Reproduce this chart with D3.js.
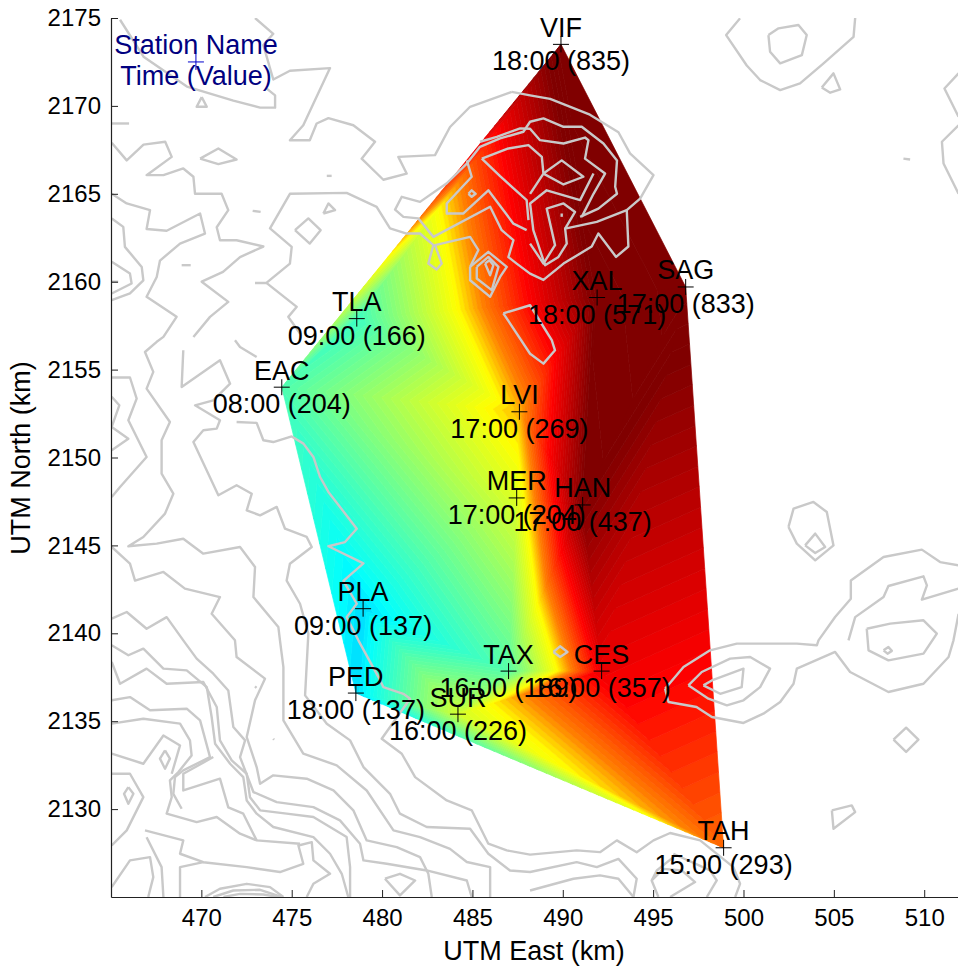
<!DOCTYPE html>
<html>
<head>
<meta charset="utf-8">
<title>Station map</title>
<script src="https://d3js.org/d3.v7.min.js"></script>
<style>
  body { margin: 0; background: #fff; }
  text { font-family: "Liberation Sans", Arial, sans-serif; fill: #000; }
</style>
</head>
<body>
<div id="chart"></div>
<script>
// Stations
var stationNames  = ["VIF", "SAG", "XAL", "TLA", "EAC", "LVI", "MER", "HAN", "PLA", "TAX", "CES", "PED", "SUR", "TAH"];
var stationEast   = [489.9, 496.8, 491.9, 478.6, 474.45, 487.6, 487.45, 491.1, 478.95, 487.0, 492.15, 478.55, 484.2, 498.9];
var stationNorth  = [2173.5, 2159.7, 2159.1, 2157.9, 2154.0, 2152.6, 2147.7, 2147.3, 2141.4, 2137.85, 2137.85, 2136.6, 2135.4, 2127.8];
var stationTimes  = ["18:00", "17:00", "18:00", "09:00", "08:00", "17:00", "17:00", "17:00", "09:00", "16:00", "16:00", "18:00", "16:00", "15:00"];
var stationValues = [835, 833, 571, 166, 204, 269, 204, 437, 137, 189, 357, 137, 226, 293];
// level the shaded surface reaches at each station, judged from its colour
var stationShades = [835, 835, 810, 240, 260, 515, 440, 800, 137, 270, 670, 137, 425, 560];

var shadeStops  = [137, 165, 480, 540, 650, 800];
var shadeColors = ["#00dcff", "#00ffff", "#ffff00", "#ff8000", "#ff0000", "#800000"];

var xTicks = [470, 475, 480, 485, 490, 495, 500, 505, 510];
var yTicks = [2130, 2135, 2140, 2145, 2150, 2155, 2160, 2165, 2170, 2175];

// Terrain contours, [km east, km north]
var terrainLines = [
  [[487.18,2170.8],[484.87,2169.95],[483.76,2168.8],[482.93,2167.2],[480.9,2167.1],[481.36,2166.15],[480.07,2165.8],[478.87,2167.0],[479.61,2167.96],[478.41,2168.9],[477.03,2169.3],[476.38,2169.0],[476.0,2168.05],[474.9,2168.05],[475.64,2168.9],[477.12,2172.15],[474.9,2172.0],[473.98,2171.5],[473.43,2173.46],[473.98,2174.1],[472.97,2175]],
  [[465.5,2174.9],[466.8,2172.8],[469.2,2171.1],[471.77,2170.3],[473.25,2169.9],[474.08,2169.9],[474.08,2170.6],[473.6,2171]],
  [[470.02,2170.5],[470.3,2169.95],[469.74,2169.95],[470.02,2170.5]],
  [[465.04,2169],[466,2169]],
  [[465.04,2167.9],[465.87,2166.9],[466.8,2167.8],[468,2167.96],[468.36,2167.1],[466.97,2166.06],[467.9,2166.06],[469,2166.44],[469.56,2165.97],[469.65,2165],[471.12,2165],[471.49,2164.07],[470.85,2163.1],[471.03,2162.36],[471.95,2162.36],[473.43,2162],[472.14,2161.4],[471.2,2160.56],[470.02,2160],[471.49,2158.85],[470.48,2158],[469.56,2156.86]],
  [[465.04,2165],[465.87,2164.45],[467.16,2164.07],[466.97,2163],[468.08,2162.9],[469.93,2163.88],[470.2,2162.74],[468.82,2162.17],[467.71,2161.2],[467.53,2160.27],[466.97,2159.14],[468.63,2158],[467.9,2156.86],[467.53,2156.58],[466.88,2156],[467.34,2154.87],[466.97,2153.92],[468.26,2152.02],[467.8,2150.98],[467.8,2149.08],[468.45,2147.94],[467.99,2146.81],[466.79,2145.48],[465.96,2144.95],[467.53,2145.1],[469,2145.38],[470.11,2144.53],[472.14,2144.91],[472.97,2143.77],[472.88,2142.06],[474.26,2140.36],[474.35,2139.6],[474.54,2138.08],[474.54,2135.05],[475.64,2133.15],[477.49,2132.49],[479.15,2131.06],[480.63,2128.79],[482.1,2128.41],[483.76,2127.74],[484.69,2126.99],[485.98,2126.7],[485.98,2125]],
  [[465.04,2163.6],[465.68,2163.12],[465.77,2161.98],[466.7,2160.84],[466.79,2160.08],[466.05,2159.33],[465.04,2158.95]],
  [[465.04,2161.13],[466.05,2160.46],[466.14,2159.9],[465.04,2159.33]],
  [[465.04,2160],[465.4,2160]],
  [[468.91,2160.94],[469.41,2160.94]],
  [[472.84,2164.03],[473.28,2163.97]],
  [[476.94,2166.02],[477.21,2166.02]],
  [[469.93,2167],[470.94,2167.58],[471.95,2166.95],[470.94,2166.69],[469.93,2167]],
  [[475.18,2162.93],[475.92,2163.6],[476.6,2162.93],[476,2162.17],[475.18,2162.93]],
  [[476.75,2163.88],[477.03,2164.45],[477.4,2164.07],[476.75,2163.88]],
  [[472.97,2159.93],[473.6,2159.93],[474.9,2161.03],[475,2161.98],[473.8,2163.03],[474.9,2165],[478.04,2165.05],[479.7,2164.26],[480.44,2163.03],[481.36,2162.74],[482.1,2162.74],[482.84,2162.08],[482.56,2161.03],[483.02,2160.69],[483.3,2161.03],[482.93,2162.08],[484.87,2162.55],[485.33,2161.8],[484.87,2160.84]],
  [[473.6,2159.93],[475.28,2158.57],[474.81,2158],[475.46,2157.05]],
  [[471.86,2156.67],[472.14,2156.29],[473.06,2155.72]],
  // mountain north of XAL
  [[487.18,2170.8],[488.19,2170.6],[489.3,2170.4],[491.5,2169.5],[493.08,2168.5],[493.72,2167.3],[495.02,2166.06],[494.28,2164.73],[493.54,2164.07],[493.63,2162],[492.95,2161.41],[491.97,2162.74],[491.6,2162],[490.04,2161.03],[488.93,2160.1],[488.19,2160.46],[487.45,2161.03],[486.99,2161.4],[487.27,2162.36],[486.62,2162.93],[485.98,2164.26],[482.84,2162.55],[482.01,2163.6],[481.18,2163.69],[480.72,2164.1],[481.09,2164.83],[482.1,2164.54],[483.58,2165.6],[484.69,2166.72],[485.42,2167.67],[486.53,2168.15],[487.82,2168.53],[488.19,2169.1],[488.93,2169.29],[490.04,2168.81],[491.05,2168.81],[492.25,2167.86],[493,2166.9],[492.9,2165.4],[493,2165],[491.97,2164.16],[490.96,2163.69]],
  [[493.54,2164.07],[491.88,2163.4],[490.13,2163.02],[490.22,2162.17],[489.76,2161.41],[489.02,2160.94],[488.37,2162.93],[488.19,2164.45],[489.11,2165.2],[490.96,2164.64],[491.7,2166.15]],
  [[484.69,2166.9],[484.96,2165.97],[483.58,2164.45],[483.58,2163.88],[484.5,2163.88],[485.88,2165.2],[487.27,2163.3],[488,2162.93]],
  [[485.42,2167.96],[486.35,2168.24],[487.64,2168.72],[488.19,2168.7],[488.74,2168.05],[490.04,2167.86],[491.23,2168.2],[491.42,2168.05],[491.23,2167],[492.34,2166.15],[491.7,2165],[491.05,2163.69]],
  [[485.52,2167],[486.99,2167.58],[488.1,2167.77],[488.84,2167.1],[488.93,2166.15],[488.19,2165]],
  [[485.52,2167],[486.53,2166],[488,2164.64],[488.1,2163.5]],
  [[488.93,2166.15],[489.94,2166.9],[491.14,2165.97],[490.04,2165.53],[488.93,2166.15]],
  [[490.13,2163.02],[490.68,2163.97],[490.04,2164.45],[489.11,2164.16],[489.57,2162.08],[488.93,2161.03],[488.19,2162.17]],
  [[489.94,2163.88],[489.94,2163.69]],
  [[484.87,2160.84],[485.88,2161.7],[486.9,2160.84],[486.53,2160.27],[485.98,2159.14],[484.87,2160.08],[484.87,2160.84]],
  [[485.24,2160.84],[485.88,2161.41],[486.44,2160.84],[486.07,2159.52],[485.24,2160.18],[485.24,2160.84]],
  [[485.7,2161.03],[485.94,2161.22],[486.16,2160.94],[485.98,2160.37],[485.7,2161.03]],
  [[484.78,2165],[484.96,2165.2],[485.18,2165],[484.96,2164.83],[484.78,2165]],
  [[486.71,2158.2],[488.19,2158.66],[489.39,2156.67],[489.57,2156.1],[488.93,2155.34],[488.19,2155.9],[486.71,2158.2]],
  // north east
  [[499.81,2174.98],[499.04,2174.03],[500.18,2172.3],[500.92,2171.47],[502.03,2170.9],[503.13,2171.28],[504.43,2172.42],[506.09,2173.93],[506.18,2175]],
  [[501.38,2174.03],[501.94,2174.41],[503.04,2174.6],[503.5,2174.03],[503.23,2172.89],[502.03,2172.42],[501.47,2173.08],[501.38,2174.03]],
  [[504.33,2171.05],[504.98,2171.85],[505.35,2170.94],[504.8,2170.75],[504.33,2171.05]],
  [[508.85,2167],[509.22,2166.95]],
  [[511.9,2171.85],[511.12,2170.99],[511.9,2169.38]],
  [[511.9,2168.9],[510.98,2167.96],[511.07,2166.72],[511.9,2165]],
  // west
  [[465.04,2154.55],[466.05,2154.55],[466.42,2153.35],[465.96,2152.12],[466.97,2150.03],[465.5,2148.32],[465.04,2147.75]],
  [[465.04,2153.45],[465.46,2152.97],[465.04,2151.74],[465.96,2151.07],[465.04,2150.41]],
  [[469,2156.1],[468.91,2154.01],[471.03,2155.53],[471.59,2154.2],[470.66,2153.25],[469.65,2152.97],[471.03,2152.12],[470.85,2151.64],[470.11,2151.55],[469.56,2150.88],[470.94,2147.85],[471.95,2148.42],[472.79,2147.94],[472.51,2146.99],[473.25,2146.71],[474.17,2147.19],[474.63,2145.95],[475.83,2145.48],[476.11,2144.91],[474.9,2143.96],[474.72,2143],[475.46,2141.68],[475.92,2139.98],[475.74,2136.47],[476.94,2134.86],[478.23,2133.91],[478.97,2132.39],[480.44,2130.87],[480.99,2129.74],[482.47,2128.98],[484.87,2128.88],[485.88,2127.46],[487.08,2126.51],[488.19,2126.42],[490.77,2126.98],[491.88,2126.7],[493.08,2127.17],[494.09,2126.04],[493.91,2125]],
  [[471.95,2152.02],[473.06,2151.97],[473.43,2150.98],[473.98,2150.88],[475,2151.2],[475.65,2150.79],[476.2,2150.03],[476.57,2148.89],[477.03,2148.04],[478.6,2145.95],[477.95,2145.19],[477.03,2144.95],[478.97,2143.98],[477.86,2142.98],[478.6,2141.68],[478.04,2140.92],[478.69,2139.6],[479.8,2137.51],[480.07,2136.94],[481.18,2136.56],[481.55,2136.28],[479.98,2134],[481.09,2133.15],[481.83,2131.82],[483.58,2130.49],[484.96,2129.93],[485.88,2128.03],[486.9,2127.65],[488.19,2127.41],[490.77,2127.65],[492.06,2127.55],[492.99,2128.22],[494.09,2127.55],[495.02,2128.22],[495.94,2128.64],[497.6,2128.22],[499.44,2126.7],[499.81,2125.75],[499.54,2125]],
  [[465.04,2144.91],[466.05,2143.96],[466.33,2143],[467.9,2143.49],[469.09,2142.54],[471.03,2142.06],[470.57,2141.11],[471.86,2139.6],[471.95,2138.65],[473.52,2137.42],[472.97,2136.19],[472.51,2134.1],[473.06,2132.39],[473.25,2131.44],[473.98,2131.92],[475.83,2131.73],[477.31,2131.06],[478.41,2129.93],[479.15,2128.22],[480.81,2127.84],[482.1,2127.27],[482.56,2126.32],[482.75,2125]],
  [[465.04,2140.83],[465.87,2141.21],[466.97,2140.26],[468.08,2140.92],[469,2139.6],[469.74,2138.56],[470.66,2137.7],[471.49,2136.75],[471.77,2134.67],[472.42,2133.91],[472.14,2132.96],[472.88,2130.97],[474.17,2130.4],[476.2,2130.11],[477.67,2129.36],[478.78,2128.03],[478.97,2127.08],[480.26,2126.89],[482.47,2126.51],[484.69,2125.94],[484.96,2125]],
  [[465.04,2138.37],[465.5,2137.13],[466.97,2137.99],[468.08,2137.13],[470.11,2137.23],[470.85,2135.81],[471.03,2133.91],[471.68,2132.77],[472.51,2132.01],[472.69,2130.68],[473.25,2129.93],[474.72,2129.74],[476.2,2129.55],[478.04,2128.41],[478.23,2126.7],[478.23,2125]],
  [[465.04,2139.32],[465.96,2138.75],[466.79,2139.13],[467.9,2137.99],[469.19,2137.89],[470.3,2136.94],[470.57,2135.24],[470.76,2133.72],[471.59,2132.58],[472.32,2131.82],[472.51,2130.49],[473.06,2129.74],[473.98,2128.98],[476.2,2128.41],[477.12,2127.46],[477.77,2126.32],[478.13,2125]],
  [[465.04,2136.19],[466.05,2136.37],[467.16,2135.62],[469.19,2135.71],[469.93,2135.05],[470.48,2132.96],[469,2132.2],[468.54,2131.82],[468.45,2130.87],[468.91,2130.02]],
  [[465.04,2134.86],[466.79,2135.14],[468.82,2134.86],[469.37,2133.91],[469.46,2133.05],[468.73,2132.11],[468.26,2131.63],[468.36,2130.68],[468.08,2129.74],[469.74,2129.26],[470.85,2129.55],[472.14,2128.6],[473.06,2128.22],[475.46,2128.03]],
  [[470.66,2132.96],[469,2132.01],[469,2131.06],[471.03,2131.73],[471.49,2130.1],[472.32,2129.74],[473.06,2128.22]],
  [[465.04,2133.15],[466.79,2132.58],[467.9,2134.19],[468.82,2133.62],[468.36,2132.01]],
  [[467.99,2133.34],[468.26,2132.87],[467.99,2132.3],[467.71,2132.87],[467.99,2133.34]],
  [[465.96,2131.25],[466.24,2130.87],[465.96,2130.3],[465.72,2130.87],[465.96,2131.25]],
  [[465.04,2132.01],[466.05,2132.01],[466.79,2130.68],[465.87,2128.79],[465.04,2127.93]],
  [[466.88,2128.79],[469,2128.22],[468.82,2127.46],[470.11,2126.98],[472.51,2126.7],[474.35,2126.42],[475.64,2126.89],[475.37,2127.93],[476.11,2128.12],[476.2,2127.08],[477.12,2126.32],[476.2,2125.75],[475.83,2125]],
  [[465.04,2125.56],[466.05,2127.08],[467.16,2127.27],[467.34,2126.13],[467.06,2125]],
  [[467.9,2125],[467.8,2126.7],[466.97,2128.4]],
  [[468.82,2125],[468.82,2126.7],[470.11,2126.98]],
  [[480.16,2126.04],[480.99,2126.32],[481.83,2125.94],[480.99,2125.09],[480.16,2126.04]],
  [[470.2,2125],[471.03,2125.47],[472.51,2125.75],[473.8,2125.56],[474.54,2125]],
  [[470.66,2125],[471.77,2125.37],[473.25,2125.41],[474.44,2125]],
  [[471.22,2125],[472.14,2125.18],[473.43,2125.14],[474.26,2125]],
  [[472.97,2136.98],[473.05,2136.9]],
  [[473.98,2134],[474.02,2133.95]],
  // south east
  [[496.12,2127.46],[498.15,2126.51],[498.52,2125.94],[497.97,2125]],
  [[495.29,2125],[494.92,2125.94],[495.2,2126.51],[496.12,2127.27]],
  [[495.94,2125],[497.32,2125.85],[496.58,2126.51],[495.57,2126.6],[494.92,2125.94]],
  [[488.19,2125.37],[490.59,2126.04],[492.06,2126.23],[493.08,2126.04],[493.91,2125]],
  [[502.49,2146.05],[502.77,2147.09],[503.87,2147.47],[504.61,2146.9],[504.98,2145],[503.97,2144.15],[502.95,2145.1],[502.49,2146.05]],
  [[503.41,2145],[503.97,2145.67],[504.52,2144.91],[503.97,2144.57],[503.41,2145]],
  [[495.66,2136.85],[496.68,2138.08],[498.15,2139.03],[499.63,2139.41],[502.95,2139.41],[504.06,2139.32],[504.15,2139.6],[505.07,2140.93],[505.94,2141.97],[505.94,2143],[507.75,2144.34],[509.87,2144.76],[510.88,2144.05],[511.9,2143.87]],
  [[505.81,2139.6],[506.18,2140.92],[507.75,2142.06],[508.02,2142.69],[509.96,2143.24],[510.15,2142.73],[509.87,2141.91],[511.9,2142.54]],
  [[506.82,2140.26],[508.12,2140.55],[509.96,2140.74],[510.7,2139.98],[509.96,2138.84],[508.02,2138.46],[506.92,2139.03],[506.82,2140.26]],
  [[507.75,2139.03],[508.02,2139.22],[508.21,2139],[507.97,2138.84],[507.75,2139.03]],
  [[495.66,2136.85],[495.85,2136.09],[497.4,2135.81],[498.25,2135.24],[500,2134.9],[501.1,2135.43],[502.03,2136.09],[502.77,2137.13],[502.95,2137.99],[505.07,2138.94],[505.9,2137.8],[508.02,2136.66],[509.96,2137.13],[511.35,2138.65],[511.62,2139.6],[511.9,2141.1]],
  [[496.95,2137.04],[497.69,2137.8],[499.26,2138.56],[500.37,2138.65],[501.47,2137.99],[500.92,2136.94],[500,2136.19],[499.08,2135.9],[498.06,2136.28],[496.95,2137.04]],
  [[497.78,2137.04],[498.25,2137.32],[500,2137.99],[499.9,2136.94],[498.71,2136.56],[497.78,2137.04]],
  [[489.48,2138.94],[489.85,2139.26],[490.26,2138.94],[489.85,2138.65],[489.48,2138.94]],
  [[508.3,2133.95],[509,2134.63],[509.68,2133.95],[509,2133.25],[508.3,2133.95]],
  [[504.89,2129.93],[505.99,2130.21],[506.18,2129.83],[504.98,2128.88],[504.89,2129.93]]
];

var svgWidth = 958;
var svgHeight = 967;
var margin = { top: 18, right: 0, bottom: 70, left: 111 };

var svg = d3.select("#chart")
  .append("svg")
  .attr("width", svgWidth)
  .attr("height", svgHeight)
  .style("display", "block");

var xScale = d3.scaleLinear().domain([465, 511.87]).range([margin.left, svgWidth - margin.right]);
var yScale = d3.scaleLinear().domain([2125, 2175]).range([svgHeight - margin.bottom, margin.top]);

var shadeColor = d3.scaleLinear().domain(shadeStops).range(shadeColors).clamp(true);

// Shaded surface: Delaunay triangles over the stations, linear inside each one,
// cut into flat colour bands
var nodes = stationNames.map(function(name, i) {
  return { x: xScale(stationEast[i]), y: yScale(stationNorth[i]), v: stationShades[i] };
});
var delaunay = d3.Delaunay.from(nodes, function(d) { return d.x; }, function(d) { return d.y; });

// keep the part of a polygon on one side of a level
function clipLevel(poly, level, keepAbove) {
  var out = [];
  poly.forEach(function(p, i) {
    var q = poly[(i + 1) % poly.length];
    var pIn = keepAbove ? p.v >= level : p.v <= level;
    var qIn = keepAbove ? q.v >= level : q.v <= level;
    if (pIn) out.push(p);
    if (pIn !== qIn) {
      var t = (level - p.v) / (q.v - p.v);
      out.push({ x: p.x + t * (q.x - p.x), y: p.y + t * (q.y - p.y), v: level });
    }
  });
  return out;
}

var bandEdges = d3.range(137, 860, 10);
var fieldGroup = svg.append("g").attr("class", "field");

d3.pairs(bandEdges).forEach(function(edge) {
  var d = "";
  for (var i = 0; i < delaunay.triangles.length; i += 3) {
    var tri = [nodes[delaunay.triangles[i]], nodes[delaunay.triangles[i + 1]], nodes[delaunay.triangles[i + 2]]];
    var part = clipLevel(clipLevel(tri, edge[0], true), edge[1], false);
    if (part.length > 2) {
      d += "M" + part.map(function(p) { return p.x.toFixed(2) + "," + p.y.toFixed(2); }).join("L") + "Z";
    }
  }
  if (d) {
    var c = shadeColor((edge[0] + edge[1]) / 2);
    fieldGroup.append("path").attr("d", d).attr("fill", c).attr("stroke", c).attr("stroke-width", 0.7);
  }
});

// Terrain contours
svg.append("clipPath").attr("id", "plotArea")
  .append("rect")
  .attr("x", margin.left).attr("y", margin.top)
  .attr("width", svgWidth - margin.left).attr("height", svgHeight - margin.top - margin.bottom);

var terrainPath = d3.line()
  .x(function(d) { return xScale(d[0]); })
  .y(function(d) { return yScale(d[1]); });

svg.append("g")
  .attr("clip-path", "url(#plotArea)")
  .selectAll("path")
  .data(terrainLines)
  .enter()
  .append("path")
  .attr("d", terrainPath)
  .attr("fill", "none")
  .attr("stroke", "#c9c9c9")
  .attr("stroke-width", 2.4)
  .attr("stroke-linejoin", "round");

// Axes, ticks pointing inward
var xAxis = d3.axisBottom(xScale).tickValues(xTicks).tickFormat(d3.format("d"))
  .tickSizeInner(-7).tickSizeOuter(0).tickPadding(12);
var yAxis = d3.axisLeft(yScale).tickValues(yTicks).tickFormat(d3.format("d"))
  .tickSizeInner(-7).tickSizeOuter(0).tickPadding(10);

var xAxisGroup = svg.append("g")
  .attr("transform", "translate(0," + (svgHeight - margin.bottom) + ")")
  .call(xAxis);
var yAxisGroup = svg.append("g")
  .attr("transform", "translate(" + margin.left + ",0)")
  .call(yAxis);

[xAxisGroup, yAxisGroup].forEach(function(g) {
  g.selectAll("text").style("font-size", "24px").style("font-family", '"Liberation Sans", Arial, sans-serif');
  g.selectAll("line").attr("stroke", "#222").attr("stroke-width", 1);
  g.select(".domain").attr("stroke", "#222").attr("stroke-width", 1.2);
});

svg.append("text")
  .attr("x", 534)
  .attr("y", 960)
  .attr("text-anchor", "middle")
  .style("font-size", "27px")
  .text("UTM East (km)");

svg.append("text")
  .attr("transform", "translate(30,458) rotate(-90)")
  .attr("text-anchor", "middle")
  .style("font-size", "27px")
  .text("UTM North (km)");

// Station crosses and labels
function drawStation(g, east, north, top, bottom, color, crossColor, topGap, bottomGap) {
  var cx = xScale(east);
  var cy = yScale(north);
  g.append("path")
    .attr("d", "M" + (cx - 8) + "," + cy + "H" + (cx + 8) + "M" + cx + "," + (cy - 8) + "V" + (cy + 8))
    .attr("stroke", crossColor)
    .attr("stroke-width", 1)
    .attr("fill", "none");
  g.append("text")
    .attr("x", cx).attr("y", cy - topGap)
    .attr("text-anchor", "middle")
    .style("font-size", "27px")
    .style("fill", color)
    .text(top);
  g.append("text")
    .attr("x", cx).attr("y", cy + bottomGap)
    .attr("text-anchor", "middle")
    .style("font-size", "27px")
    .style("fill", color)
    .text(bottom);
}

var stationGroup = svg.append("g");
stationNames.forEach(function(name, i) {
  drawStation(stationGroup, stationEast[i], stationNorth[i], name,
    stationTimes[i] + " (" + stationValues[i] + ")", "#000", "#000", 7.5, 26);
});

// Key in the top left corner
drawStation(stationGroup, 469.7, 2172.5, "Station Name", "Time (Value)", "#000080", "#0000cc", 8, 23);
</script>
</body>
</html>
